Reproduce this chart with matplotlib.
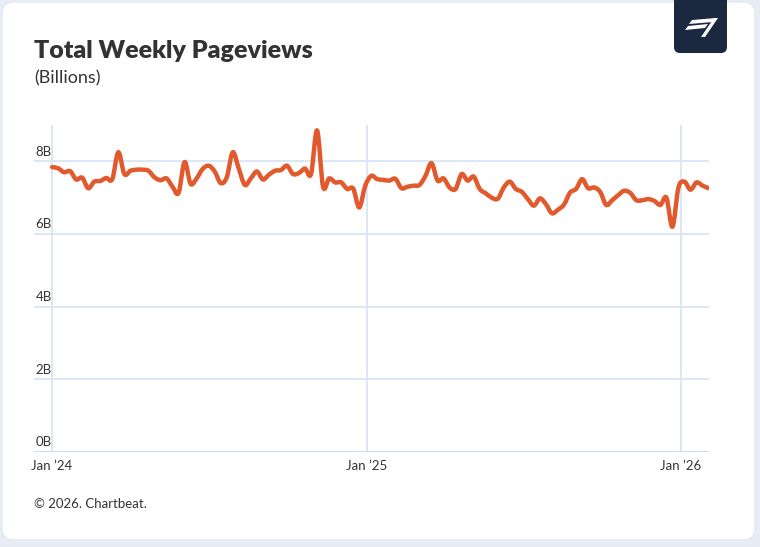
import numpy as np
import pandas as pd
import matplotlib
matplotlib.use('Agg')
import matplotlib.pyplot as plt
import matplotlib.dates as mdates
from matplotlib.path import Path
from matplotlib.patches import PathPatch, FancyBboxPatch, Polygon

plt.rcParams['font.family'] = ['Lato', 'DejaVu Sans']

# weekly pageviews in billions, weeks starting Mon 1 Jan 2024
week_start = '2024-01-01'
views = [7.84, 7.81, 7.70, 7.73, 7.50, 7.55, 7.26, 7.44, 7.46, 7.54,
         7.51, 8.25, 7.65, 7.74, 7.77, 7.77, 7.74, 7.56, 7.48, 7.53,
         7.30, 7.13, 7.98, 7.38, 7.53, 7.79, 7.88, 7.72, 7.40, 7.56,
         8.25, 7.80, 7.35, 7.53, 7.72, 7.50, 7.63, 7.74, 7.76, 7.88,
         7.65, 7.68, 7.80, 7.65, 8.85, 7.30, 7.53, 7.42, 7.42, 7.24,
         7.25, 6.73, 7.33, 7.60, 7.51, 7.49, 7.47, 7.52, 7.26, 7.30,
         7.33, 7.35, 7.60, 7.95, 7.47, 7.53, 7.28, 7.24, 7.65, 7.47,
         7.58, 7.24, 7.12, 7.00, 6.97, 7.28, 7.44, 7.24, 7.16, 6.96,
         6.78, 6.98, 6.82, 6.57, 6.67, 6.81, 7.14, 7.24, 7.51, 7.26,
         7.28, 7.16, 6.80, 6.93, 7.07, 7.19, 7.13, 6.93, 6.93, 6.96,
         6.91, 6.80, 7.00, 6.20, 7.28, 7.44, 7.22, 7.42, 7.33, 7.26]
y_ticks = [0, 2, 4, 6, 8]
x_tick_dates = ['2024-01-01', '2025-01-01', '2026-01-01']
x_tick_labels = ['Jan \u201924', 'Jan \u201925', 'Jan \u201926']

dates = pd.date_range(week_start, periods=len(views), freq='7D')
xs = mdates.date2num(dates)
ys = np.array(views)

W, H = 760, 547
fig = plt.figure(figsize=(W / 100, H / 100), dpi=100)
fig.patch.set_facecolor('#e6edf6')

# white card behind everything
card = FancyBboxPatch((0.02, 0.07), 7.53, 5.38, boxstyle='round,pad=0,rounding_size=0.12',
                      transform=fig.dpi_scale_trans, facecolor='white', edgecolor='#e3e9f1',
                      lw=1, zorder=-5)
fig.patches.append(card)

# logo badge
badge = FancyBboxPatch((6.74, 4.94), 0.53, 0.7, boxstyle='round,pad=0,rounding_size=0.06',
                       transform=fig.dpi_scale_trans, facecolor='#1b2940', edgecolor='none', zorder=1)
fig.patches.append(badge)


def px(pts):
    return [(x / 100, (H - y) / 100) for x, y in pts]


flag = [
    [(692, 20), (716, 18), (713, 22), (689, 24)],
    [(688, 26), (708, 24), (705, 28), (685, 30)],
    [(714, 18), (718, 18), (705, 37), (701, 37)],
]
for pts in flag:
    fig.patches.append(Polygon(px(pts), closed=True, transform=fig.dpi_scale_trans,
                               facecolor='white', edgecolor='none', zorder=2))

ax = fig.add_axes([34 / W, 1 - 452 / H, (709 - 34) / W, (452 - 125) / H])
ax.set_facecolor('none')
ax.set_ylim(0, 9)
ax.set_xlim(xs[0] - 21, xs[-1] + 0.5)

grid_c = '#d4e3f4'
for v in y_ticks[1:]:
    ax.axhline(v, color=grid_c, lw=1.2, zorder=1)
for d in x_tick_dates:
    ax.axvline(mdates.datestr2num(d), color=grid_c, lw=1.2, zorder=1)
ax.axhline(0, color='#c6d9ef', lw=2, zorder=2)

for s in ax.spines.values():
    s.set_visible(False)
ax.set_yticks([])
ax.set_xticks([mdates.datestr2num(d) for d in x_tick_dates])
ax.set_xticklabels(x_tick_labels)
ax.tick_params(axis='x', length=0, pad=6, labelsize=9.5, labelcolor='#333333')

for v in y_ticks:
    ax.annotate(f'{v}B', xy=(0, v), xycoords=ax.get_yaxis_transform(),
                xytext=(1, 4), textcoords='offset points', ha='left', va='baseline',
                fontsize=9.5, color='#333333')

# smooth spline through the weekly points
verts = [(xs[0], ys[0])]
codes = [Path.MOVETO]
n = len(xs)
for i in range(n - 1):
    xa, ya = (xs[i - 1], ys[i - 1]) if i > 0 else (xs[i], ys[i])
    xb, yb = (xs[i + 2], ys[i + 2]) if i + 2 < n else (xs[i + 1], ys[i + 1])
    c1 = (xs[i] + (xs[i + 1] - xa) / 6, ys[i] + (ys[i + 1] - ya) / 6)
    c2 = (xs[i + 1] - (xb - xs[i]) / 6, ys[i + 1] - (yb - ys[i]) / 6)
    verts += [c1, c2, (xs[i + 1], ys[i + 1])]
    codes += [Path.CURVE4] * 3
line = PathPatch(Path(verts, codes), fill=False, edgecolor='#e1592c', lw=3.2,
                 capstyle='round', joinstyle='round', zorder=3)
ax.add_patch(line)

fig.text(34 / W, 1 - 58 / H, 'Total Weekly Pageviews', fontsize=18, fontweight='heavy',
         color='#333333', ha='left', va='baseline')
fig.text(34 / W, 1 - 83 / H, '(Billions)', fontsize=13, color='#333333',
         ha='left', va='baseline')
fig.text(34 / W, 1 - 508 / H, '\u00a9 2026. Chartbeat.', fontsize=9.5, color='#333333',
         ha='left', va='baseline')

fig.savefig('out.png', dpi=100, facecolor=fig.get_facecolor())
